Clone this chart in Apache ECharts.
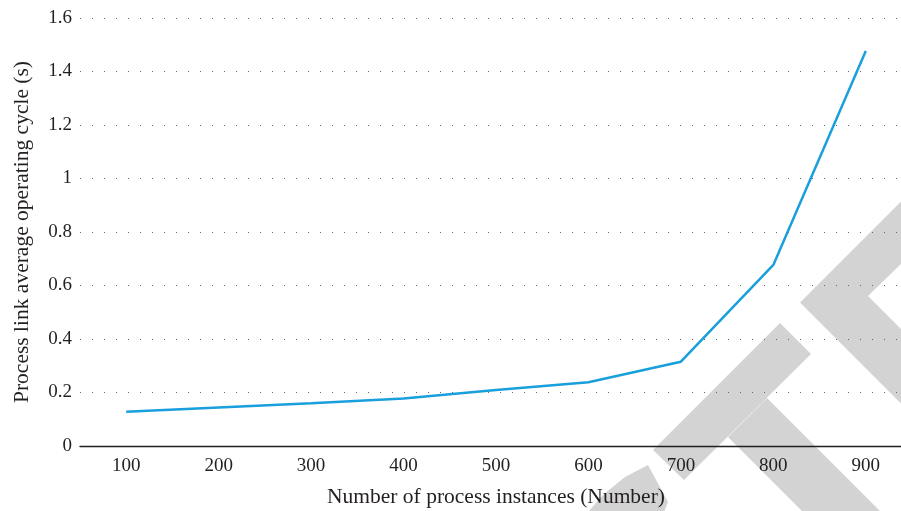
<!DOCTYPE html>
<html>
<head>
<meta charset="utf-8">
<script src="https://cdn.jsdelivr.net/npm/echarts@6/dist/echarts.min.js"></script>
<style>html,body{margin:0;padding:0;background:#fff;}#c{width:901px;height:511px;}</style>
</head>
<body>
<div id="c"></div>
<script>
var categories = ['100','200','300','400','500','600','700','800','900'];
var cycleValues = [0.128, 0.144, 0.160, 0.178, 0.209, 0.238, 0.315, 0.677, 1.477];
var yTicks = {min: 0, max: 1.6, interval: 0.2};
var xName = 'Number of process instances (Number)';
var yName = 'Process link average operating cycle (s)';

var font = '"Liberation Serif", "DejaVu Serif", serif';
var wm = '#d3d3d3';
var chart = echarts.init(document.getElementById('c'), null, {renderer: 'canvas'});
chart.setOption({
  animation: false,
  backgroundColor: '#fff',
  grid: {left: 80, top: 18, bottom: 65, width: 832, containLabel: false, outerBoundsMode: 'none'},
  graphic: [
    {type: 'polygon', z: -10, shape: {points: [[780,323],[811,354],[684,480],[653,450]]}, style: {fill: wm}},
    {type: 'polygon', z: -10, shape: {points: [[767,398],[967,598],[928,637],[728,437]]}, style: {fill: wm}},
    {type: 'polygon', z: -10, shape: {points: [[800,302.5],[903,199.5],[903,262],[868,296],[903,331],[903,405.5]]}, style: {fill: wm}},
    {type: 'polygon', z: -10, shape: {points: [[588,512],[604,494],[625,477],[648,465],[668,502],[664,512]]}, style: {fill: wm}}
  ],
  xAxis: {
    type: 'category',
    data: categories,
    boundaryGap: true,
    name: xName,
    nameLocation: 'middle',
    nameGap: 40,
    nameTextStyle: {fontFamily: font, fontSize: 21.5, color: '#231f20'},
    axisLine: {lineStyle: {color: '#231f20', width: 1.3}},
    axisTick: {show: false},
    axisLabel: {fontFamily: font, fontSize: 19, color: '#231f20', margin: 11},
    splitLine: {show: false}
  },
  yAxis: {
    type: 'value',
    min: yTicks.min,
    max: yTicks.max,
    interval: yTicks.interval,
    name: yName,
    nameLocation: 'middle',
    nameGap: 47,
    nameTextStyle: {fontFamily: font, fontSize: 21.5, color: '#231f20'},
    axisLine: {show: false},
    axisTick: {show: false},
    axisLabel: {fontFamily: font, fontSize: 19, color: '#231f20', margin: 8},
    splitLine: {lineStyle: {color: '#666', width: 1, type: [1, 11]}}
  },
  series: [{
    type: 'line',
    data: cycleValues,
    symbol: 'none',
    smooth: false,
    z: 5,
    lineStyle: {color: '#189fdc', width: 2.5}
  }]
});
</script>
</body>
</html>
